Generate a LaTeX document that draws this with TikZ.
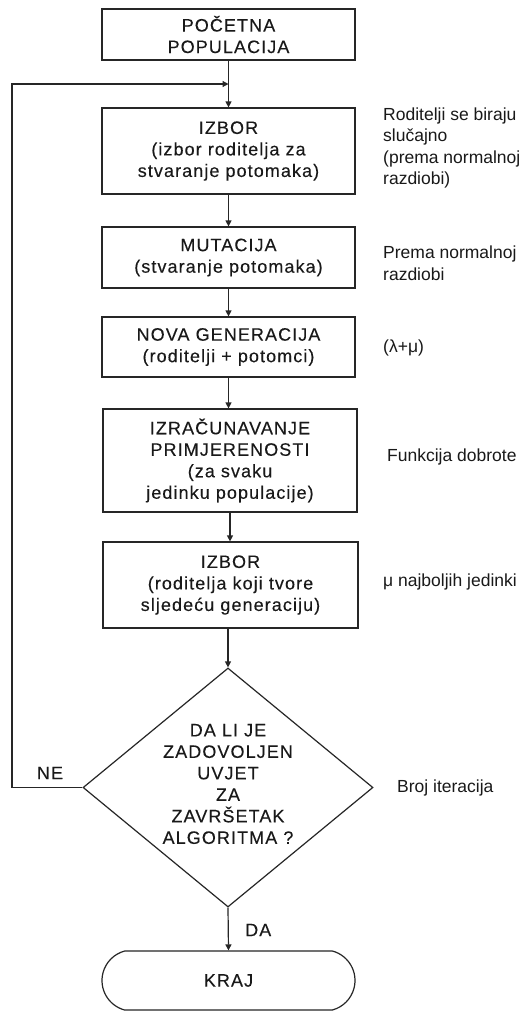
\documentclass[tikz,border=0pt]{standalone}
\usepackage{fontspec}
\setmainfont{Liberation Sans}
\newfontfamily\boxfont[LetterSpace=6,FakeBold=0.15]{Liberation Sans}
\usetikzlibrary{shapes.geometric,shapes.misc,arrows.meta}
\begin{document}
\begin{tikzpicture}[x=1pt,y=-1pt,
  every node/.style={text=black!90},
  box/.style={draw=black!85, line width=1.2pt, minimum width=253pt, inner sep=0pt, align=center,
    font=\boxfont\fontsize{18}{21.5}\selectfont},
  txt/.style={inner sep=0pt, align=center, font=\boxfont\fontsize{18}{21.5}\selectfont},
  note/.style={inner sep=0pt, align=left, anchor=west, font=\fontsize{17.5}{21.5}\selectfont},
  arr/.style={draw=black!85, line width=1.2pt, -{Triangle[length=6pt,width=6pt]}}
]
\useasboundingbox (0,0) rectangle (522,1012);
\fill[white] (0,0) rectangle (522,1012);

\node[box, minimum height=51pt] (b1) at (228.5,34.5) {POČETNA\\POPULACIJA};
\node[box, minimum height=86pt] (b2) at (228.5,151) {IZBOR\\(izbor roditelja za\\stvaranje potomaka)};
\node[box, minimum height=61pt] (b3) at (228.5,257.5) {MUTACIJA\\(stvaranje potomaka)};
\node[box, minimum height=60pt] (b4) at (228.5,347) {NOVA GENERACIJA\\(roditelji + potomci)};
\node[box, minimum height=103pt, minimum width=254pt] (b5) at (230,460.5) {IZRAČUNAVANJE\\PRIMJERENOSTI\\(za svaku\\jedinku populacije)};
\node[box, minimum height=86pt, minimum width=255pt] (b6) at (230.5,585) {IZBOR\\(roditelja koji tvore\\sljedeću generaciju)};
\node[draw=black!85, line width=1.2pt, diamond, minimum width=290pt, minimum height=239pt, inner sep=0pt] (dec) at (228,787.5) {};
\node[txt] (dect) at (228,784) {DA LI JE\\ZADOVOLJEN\\UVJET\\ZA\\ZAVRŠETAK\\ALGORITMA ?};
\node[box, rounded rectangle, rounded rectangle arc length=150, minimum height=59pt] (end) at (228.5,980.5) {KRAJ};

\coordinate (j) at (228.5,84);
\coordinate (lc) at (12,84);

\draw[arr] (b1.south) -- (b2.north);
\draw[arr] (b2.south) -- (b3.north);
\draw[arr] (b3.south) -- (b4.north);
\draw[arr] (b4.south) -- (b4.south |- b5.north);
\draw[arr] (b5.south) -- (b5.south |- b6.north);
\draw[arr] (b6.south -| dec.north) -- (dec.north);
\draw[arr] (dec.south) -- (end.north);
\draw[arr] (dec.west) -| (lc) -- (j);

\node[txt] (ne) at (50,773) {NE};
\node[txt, anchor=west] (da) at (245,930) {DA};

\node[note] (n1) at (383,148) {Roditelji se biraju\\slučajno\\(prema normalnoj\\razdiobi)};
\node[note] (n2) at (383,263) {Prema normalnoj\\razdiobi};
\node[note] (n3) at (383,348) {(λ+μ)};
\node[note] (n4) at (387,457) {Funkcija dobrote};
\node[note] (n5) at (383,582) {μ najboljih jedinki};
\node[note] (n6) at (397,788) {Broj iteracija};
\end{tikzpicture}
\end{document}
